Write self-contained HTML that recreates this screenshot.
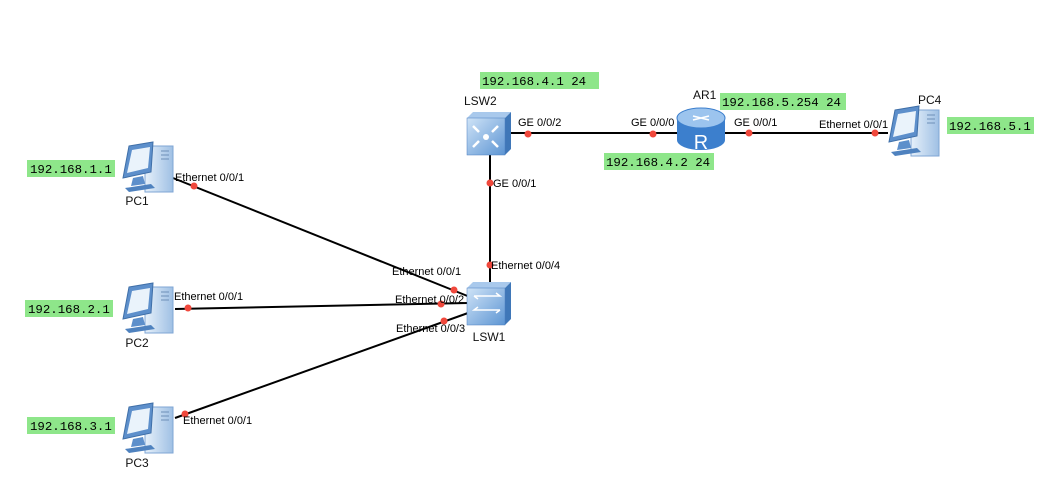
<!DOCTYPE html>
<html><head><style>
body{margin:0;background:#fff;}
svg{display:block;}
.t{font-family:"Liberation Sans",sans-serif;font-size:11px;fill:#000;}
.n{font-family:"Liberation Sans",sans-serif;font-size:12px;fill:#111;}
.g{font-family:"Liberation Mono",monospace;font-size:12.4px;fill:#000;}
</style></head><body>
<svg width="1053" height="496" viewBox="0 0 1053 496" xmlns="http://www.w3.org/2000/svg">
<defs>
<linearGradient id="bl" x1="0" y1="0" x2="1" y2="1"><stop offset="0" stop-color="#cfe3f7"/><stop offset="1" stop-color="#5d95d3"/></linearGradient>
<linearGradient id="tw" x1="0" y1="0" x2="1" y2="0"><stop offset="0" stop-color="#e6f0fa"/><stop offset="1" stop-color="#9fc0e4"/></linearGradient>
<g id="pc">
<rect x="24" y="4" width="28" height="46" fill="url(#tw)" stroke="#7fa6d4"/>
<line x1="40" y1="9" x2="48" y2="9" stroke="#6d8fb8"/><line x1="40" y1="13" x2="48" y2="13" stroke="#6d8fb8"/><line x1="40" y1="17" x2="48" y2="17" stroke="#6d8fb8"/>
<polygon points="8,4 32,0 30,30 2,36" fill="#5d8fcb" stroke="#3f6fa8"/>
<polygon points="11,8 29,5 27,26 6,31" fill="#eaf3fb"/>
<polygon points="12,36 22,34 24,42 10,44" fill="#5d8fcb"/>
<polygon points="4,46 30,42 34,46 8,50" fill="#4f82bf"/>
</g>
<g id="sw">
<polygon points="0,6 6,0 44,0 38,6" fill="#a9c9ec"/>
<polygon points="38,6 44,0 44,37 38,43" fill="#3f77b8"/>
<rect x="0" y="6" width="38" height="37" fill="url(#bl)" stroke="#4a7fbf" stroke-width="0.5"/>
</g>
</defs>

<g stroke="#000" stroke-width="2">
<line x1="173" y1="178" x2="470" y2="297"/>
<line x1="175" y1="309" x2="468" y2="303"/>
<line x1="175" y1="418" x2="468" y2="313"/>
<line x1="490" y1="155" x2="490" y2="284"/>
<line x1="510" y1="133" x2="680" y2="133"/>
<line x1="725" y1="133" x2="888" y2="133"/>
</g>
<g fill="#f0483c">
<circle cx="194" cy="186" r="3.5"/><circle cx="454" cy="290" r="3.5"/>
<circle cx="188" cy="308" r="3.5"/><circle cx="441" cy="304" r="3.5"/>
<circle cx="185" cy="414" r="3.5"/><circle cx="444" cy="321" r="3.5"/>
<circle cx="490" cy="183" r="3.5"/><circle cx="490" cy="265" r="3.5"/>
<circle cx="528" cy="134" r="3.5"/><circle cx="653" cy="134" r="3.5"/>
<circle cx="749" cy="133" r="3.5"/><circle cx="875" cy="133" r="3.5"/>
</g>

<use href="#pc" x="121" y="142"/>
<use href="#pc" x="121" y="283"/>
<use href="#pc" x="121" y="403"/>
<use href="#pc" x="887" y="106"/>
<use href="#sw" x="467" y="112"/>
<g stroke="#fff" stroke-width="2.5" fill="none">
<path d="M473,126 l6,6 M473,147 l6,-6 M498,126 l-6,6 M498,147 l-6,-6"/>
</g>
<circle cx="486" cy="137" r="3" fill="#fff"/>
<use href="#sw" x="467" y="282"/>
<g stroke="#fff" stroke-width="1.5" fill="none">
<path d="M474,296 h26 l-4,-3 M474,296 l4,3 M500,310 h-26 l4,-3 M500,310 l-4,3"/>
</g>
<path d="M677,118 v22 a24,10 0 0 0 48,0 v-22 z" fill="#3c7fcd"/>
<ellipse cx="701" cy="118" rx="24" ry="10" fill="#9cc4ee" stroke="#3c7fcd"/>
<text x="701" y="149" text-anchor="middle" font-family="Liberation Sans,sans-serif" font-size="20" fill="#fff">R</text>
<path d="M693,116 l16,4 M709,116 l-16,4" stroke="#fff" stroke-width="1.5"/>

<text class="n" x="137" y="205" text-anchor="middle">PC1</text>
<text class="n" x="137" y="347" text-anchor="middle">PC2</text>
<text class="n" x="137" y="467" text-anchor="middle">PC3</text>
<text class="n" x="918" y="104">PC4</text>
<text class="n" x="464" y="105">LSW2</text>
<text class="n" x="489" y="341" text-anchor="middle">LSW1</text>
<text class="n" x="693" y="99">AR1</text>

<text class="t" x="175" y="181">Ethernet 0/0/1</text>
<text class="t" x="392" y="275">Ethernet 0/0/1</text>
<text class="t" x="174" y="300">Ethernet 0/0/1</text>
<text class="t" x="395" y="303">Ethernet 0/0/2</text>
<text class="t" x="396" y="332">Ethernet 0/0/3</text>
<text class="t" x="183" y="424">Ethernet 0/0/1</text>
<text class="t" x="493" y="187">GE 0/0/1</text>
<text class="t" x="491" y="269">Ethernet 0/0/4</text>
<text class="t" x="518" y="126">GE 0/0/2</text>
<text class="t" x="631" y="126">GE 0/0/0</text>
<text class="t" x="734" y="126">GE 0/0/1</text>
<text class="t" x="819" y="128">Ethernet 0/0/1</text>

<g fill="#8ee68a">
<rect x="27" y="160" width="88" height="17"/>
<rect x="25" y="300" width="88" height="17"/>
<rect x="27" y="417" width="88" height="17"/>
<rect x="480" y="72" width="119" height="17"/>
<rect x="720" y="93" width="126" height="17"/>
<rect x="604" y="153" width="110" height="17"/>
<rect x="947" y="117" width="87" height="17"/>
</g>
<text class="g" x="30" y="173">192.168.1.1</text>
<text class="g" x="28" y="313">192.168.2.1</text>
<text class="g" x="30" y="430">192.168.3.1</text>
<text class="g" x="482" y="85">192.168.4.1 24</text>
<text class="g" x="722" y="106">192.168.5.254 24</text>
<text class="g" x="606" y="166">192.168.4.2 24</text>
<text class="g" x="949" y="130">192.168.5.1</text>
</svg>
</body></html>
